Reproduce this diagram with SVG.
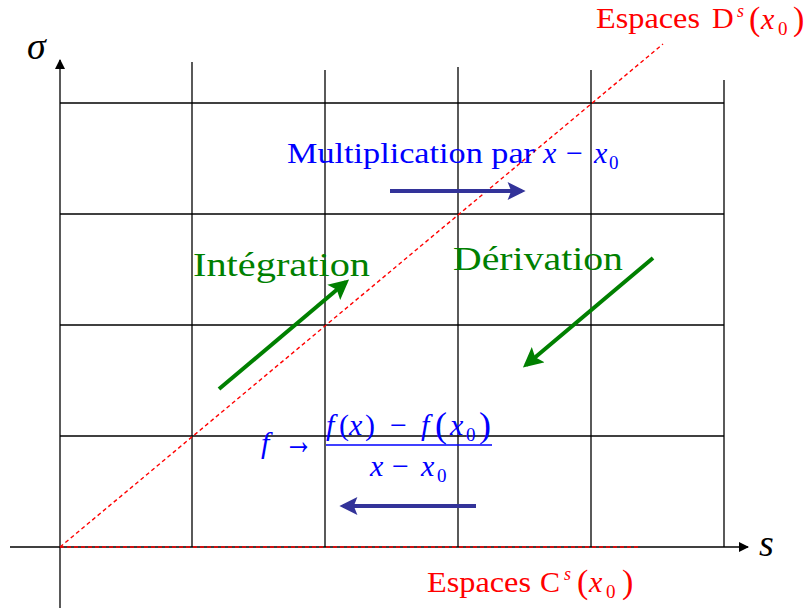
<svg xmlns="http://www.w3.org/2000/svg" width="806" height="614" viewBox="0 0 806 614">
<style>
.grid{stroke:#000;stroke-width:1.3;fill:none}
.axis{stroke:#000;stroke-width:1.3;fill:none}
.red{stroke:#ff0000;stroke-width:1.4;stroke-dasharray:4,3;fill:none}
.green{stroke:#008000;stroke-width:4;fill:none}
.blue{stroke:#333399;stroke-width:4;fill:none}
text{font-family:"Liberation Serif","DejaVu Serif",serif}
.it{font-style:italic}
.rt{fill:#ff0000;font-size:30px}
.bt{fill:#0000ff}
.gt{fill:#008000;font-size:34px}
</style>
<defs>
<marker id="ah" viewBox="0 0 10 10" refX="9" refY="5" markerWidth="10" markerHeight="10" markerUnits="userSpaceOnUse" orient="auto"><path d="M0,0 L10,5 L0,10 Z" fill="#000"/></marker>
<marker id="ag" viewBox="0 0 10 10" refX="8" refY="5" markerWidth="5" markerHeight="5" orient="auto"><path d="M0,0 L10,5 L0,10 L2,5 Z" fill="#008000"/></marker>
<marker id="ab" viewBox="0 0 10 10" refX="8" refY="5" markerWidth="5" markerHeight="4.5" orient="auto"><path d="M0,0 L10,5 L0,10 L2,5 Z" fill="#333399"/></marker>
</defs>
<g id="grid">
<line class="grid" x1="60" y1="103" x2="724" y2="103"/>
<line class="grid" x1="60" y1="214" x2="724" y2="214"/>
<line class="grid" x1="60" y1="325" x2="724" y2="325"/>
<line class="grid" x1="60" y1="436" x2="724" y2="436"/>
<line class="grid" x1="192" y1="62" x2="192" y2="547"/>
<line class="grid" x1="325" y1="70" x2="325" y2="547"/>
<line class="grid" x1="458" y1="67" x2="458" y2="547"/>
<line class="grid" x1="591" y1="70" x2="591" y2="547"/>
<line class="grid" x1="724" y1="80" x2="724" y2="547"/>
</g>
<g id="axes">
<line class="axis" x1="10" y1="547" x2="748" y2="547" marker-end="url(#ah)"/>
<line class="axis" x1="60" y1="608" x2="60" y2="60" marker-end="url(#ah)"/>
<text class="it" x="27" y="59" font-size="38">σ</text>
<text class="it" x="759" y="556" font-size="38">s</text>
</g>
<g id="espaces-c">
<line class="red" x1="60" y1="547" x2="640" y2="547" stroke-width="2"/>
<text class="rt" y="592"><tspan x="427" textLength="104" lengthAdjust="spacingAndGlyphs">Espaces</tspan><tspan x="540">C</tspan><tspan x="564" y="580" font-size="18" class="it">s</tspan><tspan x="577" y="593" font-size="34">(</tspan><tspan x="589" y="592" class="it">x</tspan><tspan x="606" y="598" font-size="19">0</tspan><tspan x="622" y="593" font-size="34">)</tspan></text>
</g>
<g id="espaces-d">
<line class="red" x1="60" y1="547" x2="663" y2="44"/>
<text class="rt" y="28"><tspan x="596" textLength="104" lengthAdjust="spacingAndGlyphs">Espaces</tspan><tspan x="712">D</tspan><tspan x="737" y="17" font-size="18" class="it">s</tspan><tspan x="749" y="30" font-size="34">(</tspan><tspan x="761" y="29" class="it">x</tspan><tspan x="778" y="35" font-size="19">0</tspan><tspan x="793" y="30" font-size="34">)</tspan></text>
</g>
<g id="multiplication">
<text class="bt" y="163" font-size="30"><tspan x="287" textLength="248" lengthAdjust="spacingAndGlyphs">Multiplication par</tspan><tspan x="543" class="it">x</tspan><tspan x="566">−</tspan><tspan x="594" class="it">x</tspan><tspan x="609" y="169" font-size="19">0</tspan></text>
<line class="blue" x1="390" y1="191" x2="522" y2="191" marker-end="url(#ab)"/>
</g>
<g id="integration">
<text class="gt" x="193" y="276" textLength="177" lengthAdjust="spacingAndGlyphs">Intégration</text>
<line class="green" x1="219" y1="389" x2="346" y2="282" marker-end="url(#ag)"/>
</g>
<g id="derivation">
<text class="gt" x="453" y="270" textLength="170" lengthAdjust="spacingAndGlyphs">Dérivation</text>
<line class="green" x1="653" y1="258" x2="526" y2="365" marker-end="url(#ag)"/>
</g>
<g id="formula">
<text class="bt" font-size="30"><tspan x="261" y="453" class="it">f</tspan><tspan x="284" y="454" font-size="40" textLength="29" lengthAdjust="spacingAndGlyphs">→</tspan><tspan x="326" y="435" class="it">f</tspan><tspan x="339" y="435">(</tspan><tspan x="349" class="it">x</tspan><tspan x="365">)</tspan><tspan x="390">−</tspan><tspan x="421" class="it">f</tspan><tspan x="435" y="437" font-size="36">(</tspan><tspan x="450" y="435" class="it">x</tspan><tspan x="466" y="441" font-size="19">0</tspan><tspan x="479" y="437" font-size="36">)</tspan></text>
<line x1="326" y1="445" x2="492" y2="445" stroke="#0000ff" stroke-width="1.3"/>
<text class="bt" font-size="30" y="476"><tspan x="370" class="it">x</tspan><tspan x="392">−</tspan><tspan x="421" class="it">x</tspan><tspan x="437" y="482" font-size="19">0</tspan></text>
<line class="blue" x1="476" y1="506" x2="343" y2="506" marker-end="url(#ab)"/>
</g>
</svg>
